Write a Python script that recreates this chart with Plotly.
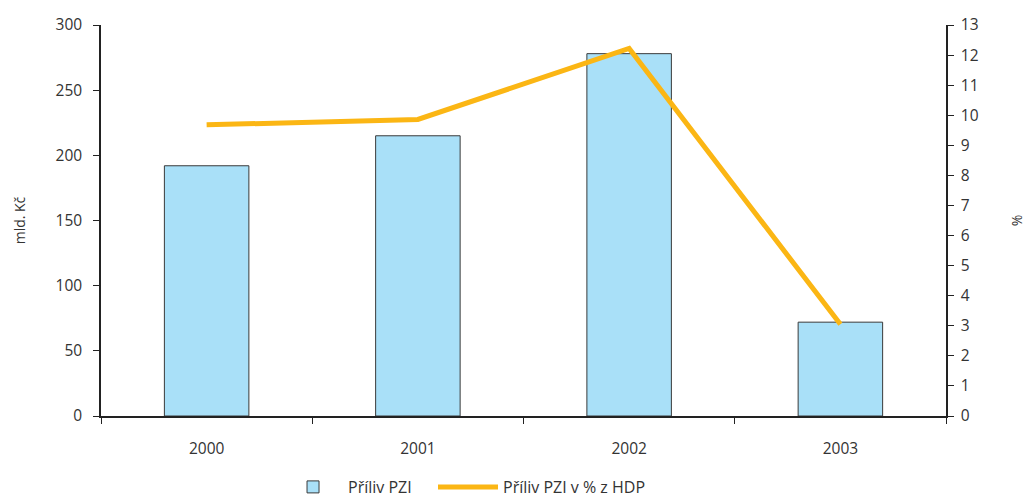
import plotly.graph_objects as go

years = ["2000", "2001", "2002", "2003"]
inflow_bn_czk = [192, 215, 278, 72]
inflow_pct_gdp = [9.68, 9.86, 12.22, 3.05]

font_family = "Open Sans, Noto Sans, sans-serif"
text_color = "#333333"
axis_color = "#222222"
tick_font = dict(family=font_family, size=15.5, color=text_color)
title_font = dict(family=font_family, size=14, color=text_color)
legend_font = dict(family=font_family, size=16, color=text_color)

fig = go.Figure()
fig.add_trace(go.Bar(
    x=years, y=inflow_bn_czk, name="Příliv PZI",
    marker=dict(color="#A9E0F8", line=dict(color="#3a3a3a", width=1)),
    width=0.4, yaxis="y", legend="legend",
))
fig.add_trace(go.Scatter(
    x=years, y=inflow_pct_gdp, name="Příliv PZI v % z HDP",
    mode="lines", line=dict(color="#FBB614", width=5), yaxis="y2",
    legend="legend2",
))

fig.update_layout(
    width=1026, height=500,
    margin=dict(l=101, r=80, t=25, b=84, autoexpand=False),
    paper_bgcolor="white", plot_bgcolor="white",
    font=dict(family=font_family, size=15, color=text_color),
    showlegend=True,
    legend=dict(orientation="h", x=0.2095, xanchor="left", y=-0.1816, yanchor="middle",
                font=legend_font, itemwidth=60),
    legend2=dict(orientation="h", x=0.3929, xanchor="left", y=-0.1816, yanchor="middle",
                 font=legend_font, itemwidth=60),
    xaxis=dict(type="category", range=[-0.5, 3.5], tickson="boundaries",
               ticks="outside", ticklen=6, tickcolor=axis_color,
               showline=True, linecolor=axis_color, linewidth=1.5,
               showgrid=False, zeroline=False, ticklabelstandoff=18,
               tickfont=tick_font, automargin=False),
    yaxis=dict(range=[0, 300], dtick=50, ticks="outside", ticklen=6,
               tickcolor=axis_color, showline=True, linecolor=axis_color,
               linewidth=1.5, showgrid=False, zeroline=False,
               ticklabelstandoff=8, tickfont=tick_font, automargin=False,
               title=dict(text="mld. Kč", standoff=27, font=title_font)),
    yaxis2=dict(range=[0, 13], dtick=1, overlaying="y", side="right",
                ticks="outside", ticklen=6, tickcolor=axis_color,
                showline=True, linecolor=axis_color, linewidth=1.5,
                showgrid=False, zeroline=False, ticklabelstandoff=4,
                tickfont=tick_font, automargin=False,
                title=dict(text="%", standoff=38, font=title_font)),
)

fig.write_html("out.html", config={"displayModeBar": False},
               post_script="document.body.style.margin='0';document.body.style.overflow='hidden';")
